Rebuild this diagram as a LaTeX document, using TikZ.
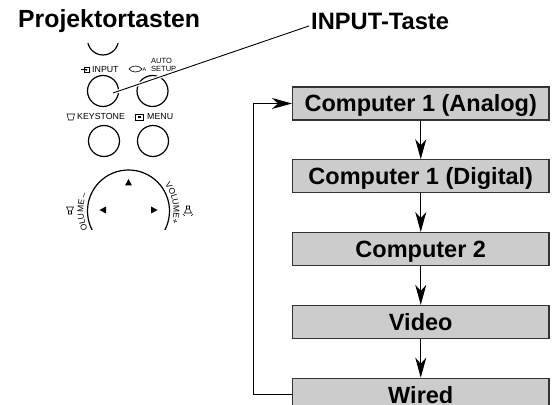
\documentclass[tikz,border=0pt]{standalone}
\usepackage{fontspec}
\setmainfont{Liberation Sans}
\newfontfamily\keyfont{Liberation Sans}
\usetikzlibrary{arrows.meta,decorations.text,positioning}

\tikzset{
  modebox/.style={draw=black!80, line width=1.1pt, fill=black!20,
    minimum width=256.5pt, minimum height=33pt, inner sep=0pt,
    text height=16.8pt, text depth=0pt,
    font=\keyfont\bfseries\fontsize{23.5}{26}\selectfont},
  flow/.style={line width=1.1pt, -{Stealth[length=20pt,width=11pt,inset=6pt]}},
  key/.style={draw, circle, line width=1.2pt, minimum size=31pt, inner sep=0pt},
  keylabel/.style={anchor=base west, inner sep=0pt, font=\keyfont\fontsize{8.8}{9}\selectfont},
}

\begin{document}
\begin{tikzpicture}[x=1pt,y=1pt]
  \useasboundingbox (0,0) rectangle (553,404);

  % Title
  \node[anchor=base west, inner sep=0pt, font=\keyfont\bfseries\fontsize{24.8}{28}\selectfont] (title) at (18,376) {Projektortasten};

  % Keys of the projector
  \begin{scope}
  \clip (50,174) rectangle (210,360);
  \node[key] (topkey) at (103,364.5) {};
  \node[key] (inputkey) at (103,313) {};
  \node[key] (autokey) at (152.5,313) {};
  \node[key] (keystonekey) at (104,263) {};
  \node[key] (menukey) at (153,263) {};
  \node[key, minimum size=82pt] (padkey) at (128.5,193) {};

  % pointer arrows on the pad
  \fill (125,218.5) -- (132,218.5) -- (128.5,225) -- cycle;
  \fill (99.5,194) -- (106,197.5) -- (106,190.5) -- cycle;
  \fill (157.5,194) -- (151,197.5) -- (151,190.5) -- cycle;

  % volume text round the pad
  \path[decorate, decoration={text along path, text align=left,
    text={|\keyfont\fontsize{8.5}{9}\selectfont|VOLUME –}}]
    (128.5,193) ++(212:45) arc[start angle=212, end angle=140, radius=45];
  \path[decorate, decoration={text along path, text align=left,
    text={|\keyfont\fontsize{8.5}{9}\selectfont|VOLUME+}}]
    (128.5,193) ++(36:45) arc[start angle=36, end angle=-40, radius=45];
  \end{scope}

  % speaker symbols
  \draw[line width=0.6pt] (68.5,190) rectangle (71.5,193)
    (68.5,193) -- (66.5,197) -- (73.5,197) -- (71.5,193);
  \draw[line width=0.6pt] (186.5,198) rectangle (189.5,195)
    (186.5,195) -- (184.5,191) -- (191.5,191) -- (189.5,195);
  \draw[line width=0.5pt] (183,190) arc[start angle=200, end angle=250, radius=3]
    (193,190) arc[start angle=-20, end angle=-70, radius=3];

  % key labels
  \draw[line width=0.6pt] (84,331.5) rectangle (89.5,337);
  \draw[line width=0.6pt, -{Stealth[length=2pt,width=2.5pt]}] (80.5,334.2) -- (87.5,334.2);
  \node[keylabel] (inputname) at (92,331) {INPUT};
  \draw[line width=0.6pt] (129,335) .. controls (132,339) and (139,339) .. (142,335)
    .. controls (139,331) and (132,331) .. (129,335);
  \node[keylabel, font=\keyfont\fontsize{5.5}{6}\selectfont] (autoa) at (142.5,332) {A};
  \node[keylabel, font=\keyfont\fontsize{7.5}{8}\selectfont] (autoname) at (151,340) {AUTO};
  \node[keylabel, font=\keyfont\fontsize{7.5}{8}\selectfont] (setupname) at (151,332) {SETUP};
  \draw[line width=0.6pt] (67,290) -- (74.5,290) -- (73,284) -- (68.5,284) -- cycle;
  \node[keylabel] (keystonename) at (77,284) {KEYSTONE};
  \draw[line width=0.6pt] (135,284) rectangle (143,290);
  \fill (137.5,286) rectangle (140.5,288);
  \node[keylabel] (menuname) at (147,284) {MENU};

  % Pointer to the INPUT key
  \node[anchor=base west, inner sep=2pt, font=\keyfont\bfseries\fontsize{23.7}{26}\selectfont] (taste) at (309,374) {INPUT-Taste};
  \coordinate (inputtip) at (113,311);
  \draw[line width=0.9pt, preaction={draw=white, line width=3.5pt}] (inputtip) -- ([yshift=-4pt]taste.west);

  % Input sources
  \node[modebox] (analog) at (420.75,300.5) {Computer 1 (Analog)};
  \node[modebox, below=38.7pt of analog] (digital) {Computer 1 (Digital)};
  \node[modebox, below=38.7pt of digital] (comp2) {Computer 2};
  \node[modebox, below=38.7pt of comp2] (video) {Video};
  \node[modebox, below=38.7pt of video] (wired) {Wired};

  \foreach \a/\b in {analog/digital, digital/comp2, comp2/video, video/wired}
    \draw[flow] (\a) -- (\b);
  \draw[flow] (wired.west) -- ++(-38.5,0) |- (analog.west);
\end{tikzpicture}
\end{document}
